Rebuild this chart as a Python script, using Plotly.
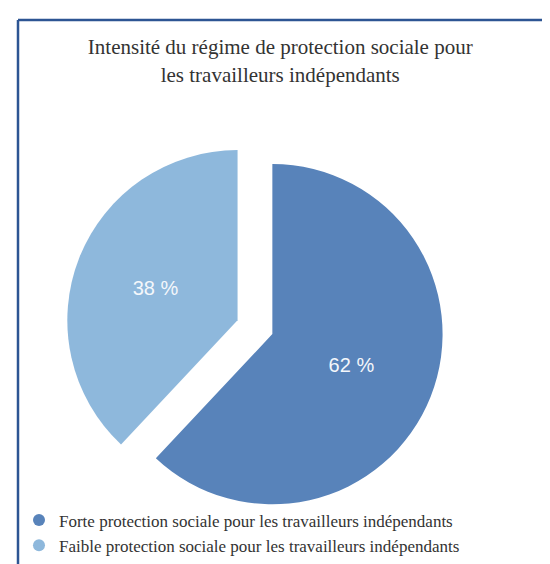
import plotly.graph_objects as go

categories = ["Forte protection sociale pour les travailleurs indépendants",
              "Faible protection sociale pour les travailleurs indépendants"]
values = [62, 38]
colors = ["#5883BA", "#8EB8DC"]
title_text = "Intensité du régime de protection sociale pour<br>les travailleurs indépendants"

labels_text = [f"{v} %" for v in values]

fig = go.Figure()
fig.add_trace(go.Pie(
    labels=categories,
    values=values,
    text=labels_text,
    textinfo="text",
    textposition="inside",
    insidetextorientation="horizontal",
    textfont=dict(family="Liberation Sans, Arial, sans-serif", size=20, color="#F4F7FB"),
    marker=dict(colors=colors, line=dict(width=0)),
    sort=False,
    direction="clockwise",
    rotation=0,
    pull=[0.11, 0.11],
    showlegend=False,
    domain=dict(x=[0.104, 0.794], y=[0.099, 0.769]),
    hoverinfo="label+percent",
))

for name, col in zip(categories, colors):
    fig.add_trace(go.Scatter(
        x=[None], y=[None], mode="markers", name=name,
        marker=dict(symbol="circle", size=12, color=col),
        showlegend=True, hoverinfo="skip",
    ))

fig.update_layout(
    width=550, height=564,
    margin=dict(l=0, r=0, t=0, b=0),
    paper_bgcolor="white",
    plot_bgcolor="white",
    xaxis=dict(visible=False),
    yaxis=dict(visible=False),
    title=dict(
        text=title_text,
        x=0.495, xanchor="center",
        y=0.918, yanchor="middle",
        font=dict(family="Liberation Serif, Times New Roman, serif", size=21, color="#333333"),
    ),
    legend=dict(
        x=0.02, xanchor="left",
        y=0.015, yanchor="bottom",
        orientation="v",
        font=dict(family="Liberation Serif, Times New Roman, serif", size=17, color="#333333"),
        bgcolor="rgba(0,0,0,0)",
        itemsizing="constant",
        tracegroupgap=0,
    ),
    shapes=[
        dict(type="line", xref="paper", yref="paper",
             x0=10/550, x1=1.02, y0=1-12/564, y1=1-12/564,
             line=dict(color="#2D5593", width=2.5)),
        dict(type="line", xref="paper", yref="paper",
             x0=10/550, x1=10/550, y0=1-12/564, y1=-0.02,
             line=dict(color="#2D5593", width=2.5)),
    ],
)

fig.write_html("out.html")
